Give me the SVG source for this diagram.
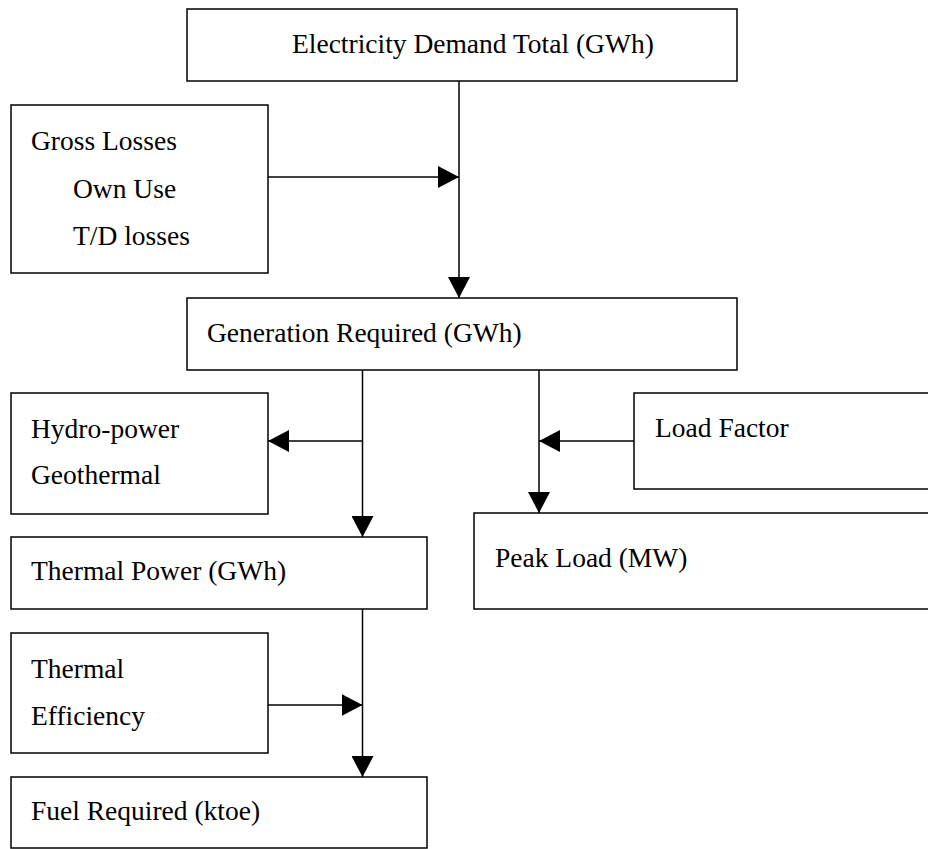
<svg xmlns="http://www.w3.org/2000/svg" width="928" height="849" viewBox="0 0 928 849">
<style>
.box{fill:#fff;stroke:#000;stroke-width:1.5}
.t{font-family:"Liberation Serif","Times New Roman",serif;font-size:27.5px;fill:#000}
.c{fill:none;stroke:#000;stroke-width:1.5}
</style>
<defs>
<marker id="ah" markerUnits="userSpaceOnUse" markerWidth="22" markerHeight="22" viewBox="0 0 22 22" refX="21" refY="11" orient="auto">
<path d="M0,0 L21,11 L0,22 Z" fill="#000"/>
</marker>
</defs>
<rect width="928" height="849" fill="#fff"/>
<g id="n-demand"><rect class="box" x="187" y="9" width="550" height="72"/><text class="t" x="292" y="53">Electricity Demand Total (GWh)</text></g>
<g id="n-losses"><rect class="box" x="11" y="105" width="257" height="168"/><text class="t" x="31" y="150">Gross Losses</text><text class="t" x="73" y="198">Own Use</text><text class="t" x="73" y="245">T/D losses</text></g>
<g id="n-generation"><rect class="box" x="187" y="298" width="550" height="72"/><text class="t" x="207" y="342">Generation Required (GWh)</text></g>
<g id="n-hydro"><rect class="box" x="11" y="393" width="257" height="121"/><text class="t" x="31" y="438">Hydro-power</text><text class="t" x="31" y="484">Geothermal</text></g>
<g id="n-loadfactor"><rect class="box" x="634" y="393" width="310" height="96"/><text class="t" x="655" y="437">Load Factor</text></g>
<g id="n-thermal"><rect class="box" x="11" y="537" width="416" height="72"/><text class="t" x="31" y="580">Thermal Power (GWh)</text></g>
<g id="n-peak"><rect class="box" x="474" y="513" width="470" height="96"/><text class="t" x="495" y="567">Peak Load (MW)</text></g>
<g id="n-efficiency"><rect class="box" x="11" y="633" width="257" height="120"/><text class="t" x="31" y="678">Thermal</text><text class="t" x="31" y="725">Efficiency</text></g>
<g id="n-fuel"><rect class="box" x="11" y="777" width="416" height="71"/><text class="t" x="31" y="820">Fuel Required (ktoe)</text></g>
<g id="connectors">
<path class="c" d="M459,81 V298" marker-end="url(#ah)"/>
<path class="c" d="M268,177 H459" marker-end="url(#ah)"/>
<path class="c" d="M362.5,370 V537" marker-end="url(#ah)"/>
<path class="c" d="M362.5,441 H268" marker-end="url(#ah)"/>
<path class="c" d="M539,370 V513" marker-end="url(#ah)"/>
<path class="c" d="M634,441 H539" marker-end="url(#ah)"/>
<path class="c" d="M362.5,609 V777" marker-end="url(#ah)"/>
<path class="c" d="M268,705 H362.5" marker-end="url(#ah)"/>
</g>
</svg>
